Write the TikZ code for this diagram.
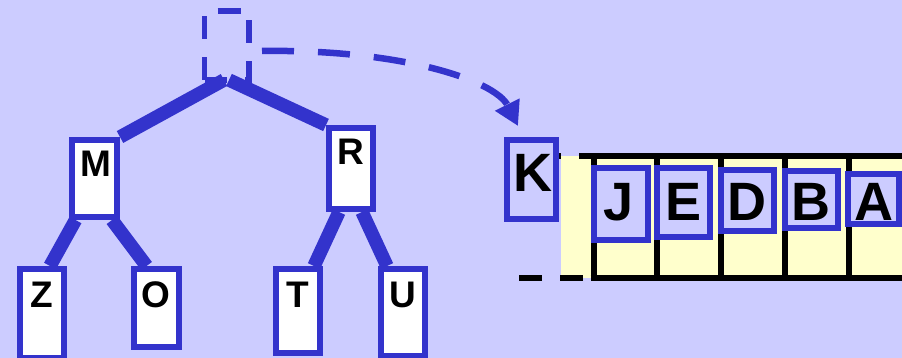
\documentclass[tikz,border=0pt]{standalone}
\usepackage{fontspec}
\setmainfont{Liberation Sans}
\usetikzlibrary{arrows.meta}
\definecolor{bgc}{HTML}{CCCCFF}
\definecolor{blu}{HTML}{3333CC}
\definecolor{yel}{HTML}{FFFFCC}
\pgfdeclarelayer{back}
\pgfdeclarelayer{edges}
\pgfsetlayers{back,edges,main}
\begin{document}
\begin{tikzpicture}[x=1pt,y=-1pt,
  tbox/.style={draw=blu, fill=white, line width=6pt, inner sep=0pt, outer sep=3pt},
  lbox/.style={draw=blu, fill=bgc, line width=6pt, inner sep=0pt, outer sep=3pt},
  smalltxt/.style={font=\fontsize{37}{40}\selectfont\bfseries, inner sep=0pt, anchor=base},
  bigtxt/.style={font=\fontsize{54}{58}\selectfont\bfseries, inner sep=0pt, anchor=base},
  treeedge/.style={blu, line width=13.5pt},
  dashbox/.style={blu, line width=5.5pt, dash pattern=on 23pt off 18pt},
  darrow/.style={blu, line width=6.5pt, dash pattern=on 32pt off 24pt, -{Triangle[length=24pt,width=26pt]}},
  blk/.style={black, line width=6pt},
  blkdash/.style={black, line width=6pt, dash pattern=on 23pt off 18pt}]
\begin{pgfonlayer}{back}
\fill[bgc] (0,0) rectangle (902,358);
\end{pgfonlayer}
\useasboundingbox (0,0) rectangle (902,358);

% ---- tree ----
\node[minimum width=44.5pt, minimum height=69pt, inner sep=0pt, outer sep=0pt] (root) at (226.75,45.5) {};
\draw[dashbox] (root.south west) -- (root.north west) -- (root.north east) -- (root.south east) -- cycle;

\node[tbox, minimum width=45pt, minimum height=77pt] (M) at (94.5,178.5) {};
\node[tbox, minimum width=44pt, minimum height=81pt] (R) at (351,168.5) {};
\node[tbox, minimum width=44pt, minimum height=89pt] (Z) at (42,313.5) {};
\node[tbox, minimum width=45pt, minimum height=78pt] (O) at (156.5,308) {};
\node[tbox, minimum width=44pt, minimum height=84pt] (T) at (298,311) {};
\node[tbox, minimum width=44pt, minimum height=87pt] (U) at (403,312.5) {};

\node[smalltxt] (Ml) at (95.5,177) {M};
\node[smalltxt] (Rl) at (351,165) {R};
\node[smalltxt] (Zl) at (41.5,307) {Z};
\node[smalltxt] (Ol) at (156,307) {O};
\node[smalltxt] (Tl) at (297.5,307) {T};
\node[smalltxt] (Ul) at (402.5,307) {U};

\begin{pgfonlayer}{edges}
\draw[treeedge] ([xshift=-2.75pt]root.south) -- (M.north east);
\draw[treeedge] ([xshift=2.25pt]root.south) -- (R.north west);
\draw[treeedge] ([xshift=-19pt]M.south) -- ([xshift=8pt]Z.north);
\draw[treeedge] ([xshift=17.5pt]M.south) -- ([xshift=-10pt]O.north);
\draw[treeedge] ([xshift=-12pt]R.south) -- ([xshift=16pt]T.north);
\draw[treeedge] ([xshift=11pt]R.south) -- ([xshift=-16pt]U.north);
\end{pgfonlayer}

% ---- array ----
\fill[yel] (561,156.5) rectangle (902,278);
\draw[blk] (590.5,156.5) -- (902,156.5);
\draw[blk] (590.5,278) -- (902,278);
\draw[blkdash, dash phase=11pt] (590.5,156.5) -- (520,156.5);
\draw[blkdash, dash phase=33.5pt] (590.5,278) -- (518,278);
\foreach \x in {593.5,657,721,785,849}
  \draw[blk] (\x,153.5) -- (\x,281);

\node[lbox, minimum width=54pt, minimum height=71.5pt] (J) at (620.5,204.25) {};
\node[lbox, minimum width=53pt, minimum height=69pt] (E) at (683.5,202.5) {};
\node[lbox, minimum width=53pt, minimum height=61pt] (D) at (747.5,200.5) {};
\node[lbox, minimum width=53pt, minimum height=57pt] (B) at (811.5,199.5) {};
\node[lbox, minimum width=51pt, minimum height=49.5pt] (A) at (873.5,199.25) {};
\node[lbox, minimum width=49pt, minimum height=79pt] (K) at (531.5,179.5) {};

\node[bigtxt] (Jl) at (619,221) {J};
\node[bigtxt] (El) at (683.5,221) {E};
\node[bigtxt] (Dl) at (747,221) {D};
\node[bigtxt] (Bl) at (810.5,221) {B};
\node[bigtxt] (Al) at (874,221) {A};
\node[bigtxt] (Kl) at (532.5,191.7) {K};

% ---- dashed arrow ----
\coordinate (arrs) at (262,51);
\coordinate (arre) at (518,126);
\draw[darrow] (arrs) .. controls (400,49) and (495,80) .. (arre);
\end{tikzpicture}
\end{document}
